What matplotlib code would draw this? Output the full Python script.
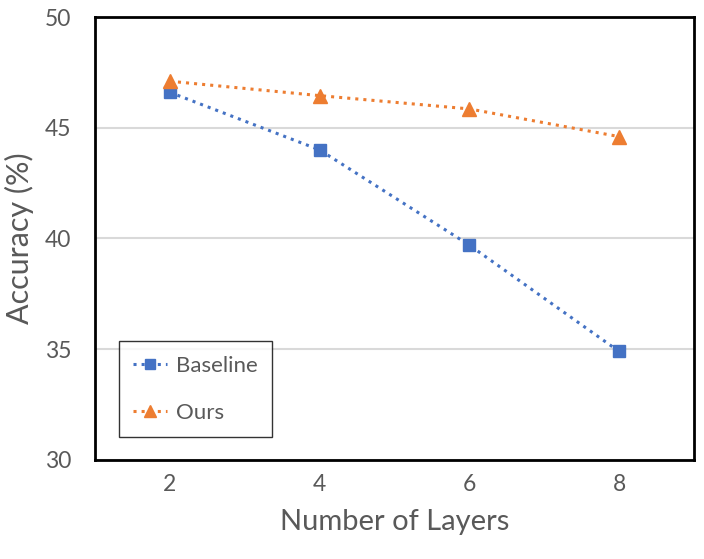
import matplotlib.pyplot as plt

layers = [2, 4, 6, 8]
baseline = [46.6, 44.0, 39.7, 34.9]
ours = [47.1, 46.45, 45.85, 44.6]

plt.rcParams['font.family'] = ['Lato', 'DejaVu Sans']
text_color = '#595959'

fig = plt.figure(figsize=(7.04, 5.59), dpi=100)
ax = fig.add_axes([95 / 704, 1 - 460 / 559, 599 / 704, 443 / 559])

ax.plot(layers, baseline, color='#4472C4', linestyle=':', linewidth=2.2,
        marker='s', markersize=9, label='Baseline', zorder=3)
ax.plot(layers, ours, color='#ED7D31', linestyle=':', linewidth=2.2,
        marker='^', markersize=10, label='Ours', zorder=3)

ax.set_xlim(1, 9)
ax.set_ylim(30, 50)
ax.set_xticks(layers)
ax.set_yticks([30, 35, 40, 45, 50])
ax.yaxis.grid(True, color='#d9d9d9', linewidth=1.5)
ax.set_axisbelow(True)
ax.tick_params(length=0, labelsize=16.5, colors=text_color, pad=17)
ax.tick_params(axis='x', pad=10)
for s in ax.spines.values():
    s.set_color('black')
    s.set_linewidth(2)

ax.set_xlabel('Number of Layers', fontsize=21, color=text_color, labelpad=10)
ax.set_ylabel('Accuracy (%)', fontsize=22, color=text_color, labelpad=8)

# legend box sits in the lower-left corner of the plot area
leg = ax.legend(loc='lower left', bbox_to_anchor=(24 / 599, 23 / 443),
                borderaxespad=0, fontsize=16, frameon=True, fancybox=False,
                borderpad=0.65, labelspacing=1.2, handlelength=1.5,
                handletextpad=0.4, markerscale=0.85, labelcolor=text_color)
leg.get_frame().set_edgecolor('black')
leg.get_frame().set_linewidth(1.0)

fig.savefig('out.png', dpi=100)
